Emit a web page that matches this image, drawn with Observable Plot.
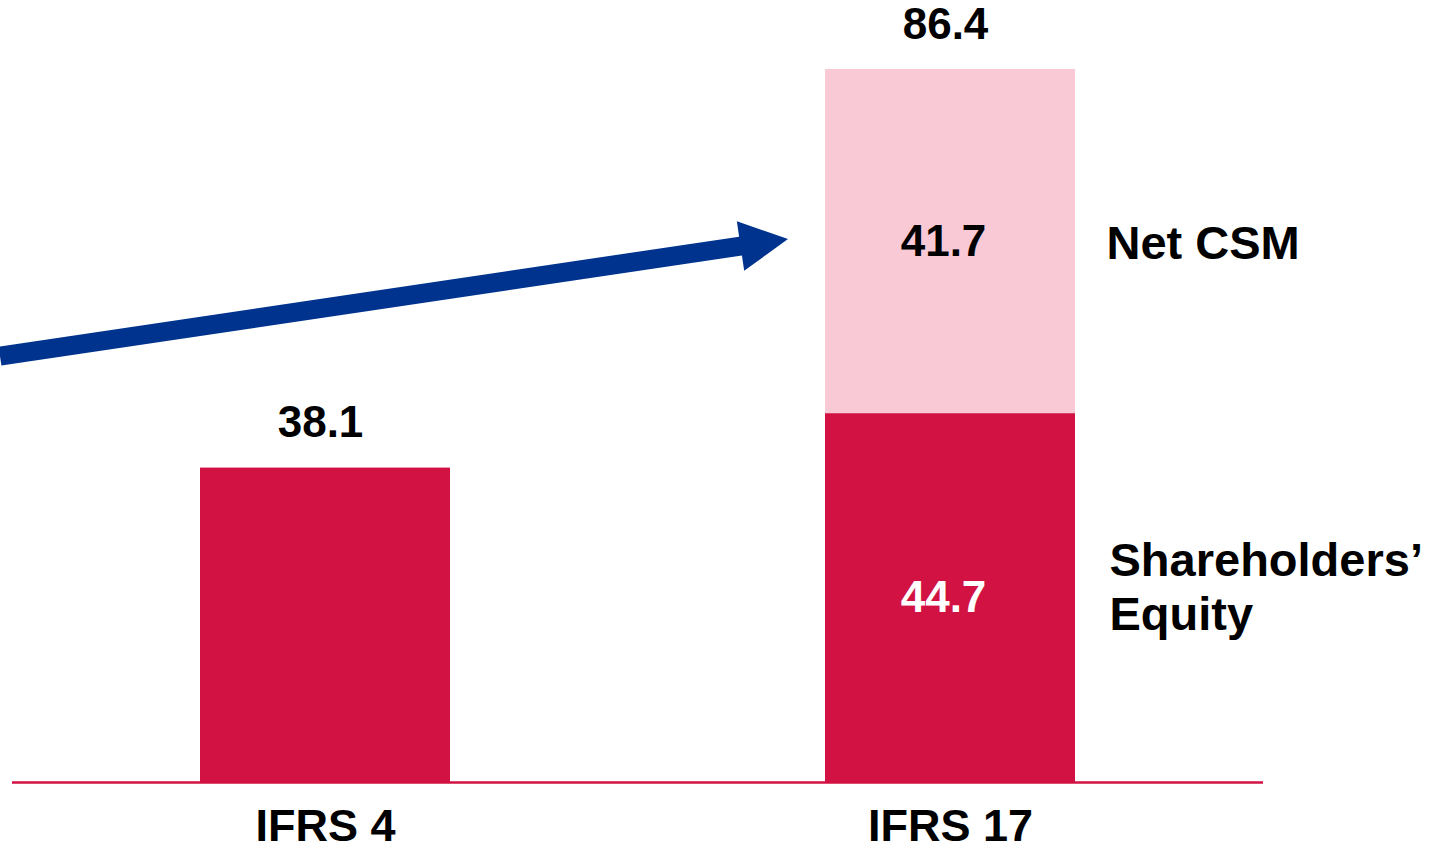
<!DOCTYPE html>
<html><head><meta charset="utf-8">
<script src="https://cdn.jsdelivr.net/npm/d3@7"></script>
<script src="https://cdn.jsdelivr.net/npm/@observablehq/plot@0.6"></script>
<style>html,body{margin:0;padding:0;background:#fff;overflow:hidden}</style>
</head><body><div id="chart"></div>
<script>
const categories = ["IFRS 4", "IFRS 17"];
const seriesNames = ["Shareholders’ Equity", "Net CSM"];
const seriesLabels = ["Shareholders’\nEquity", "Net CSM"];
const equityValues = [38.1, 44.7];
const csmValues = [null, 41.7];
const totalValues = [38.1, 86.4];
const seriesColors = ["#D11242", "#F9CAD6"];
const arrowStartValue = 51.6;
const arrowEndValue = 65.8;

const rows = [];
categories.forEach((c, i) => {
  rows.push({cat: c, series: seriesNames[0], label: seriesLabels[0], value: equityValues[i], base: 0});
  if (csmValues[i] != null) rows.push({cat: c, series: seriesNames[1], label: seriesLabels[1], value: csmValues[i], base: equityValues[i]});
});
const totals = categories.map((c, i) => ({cat: c, total: totalValues[i]}));
const mid = d => d.base + d.value / 2;
const ifrs17 = rows.filter(d => d.cat === categories[1]);
const eqRow = ifrs17.filter(d => d.series === seriesNames[0]);
const csmRow = ifrs17.filter(d => d.series === seriesNames[1]);

function arrowMark(index, scales) {
  const x0 = 0, y0 = scales.y(arrowStartValue);
  const x1 = scales.x(categories[1]) - 37, y1 = scales.y(arrowEndValue);
  const dx = x1 - x0, dy = y1 - y0, len = Math.hypot(dx, dy);
  const ux = dx / len, uy = dy / len, nx = -uy, ny = ux;
  const L = 48, hw = 25, sw = 9.5;
  const bx = x1 - ux * L, by = y1 - uy * L;
  const pts = [
    [x0 + nx * sw, y0 + ny * sw],
    [bx + nx * sw, by + ny * sw],
    [bx + nx * hw, by + ny * hw],
    [x1, y1],
    [bx - nx * hw, by - ny * hw],
    [bx - nx * sw, by - ny * sw],
    [x0 - nx * sw, y0 - ny * sw]
  ];
  return d3.create("svg:polygon")
    .attr("points", pts.map(p => p.join(",")).join(" "))
    .attr("fill", "#00338D")
    .node();
}

const font = "'Liberation Sans', Arial, sans-serif";
const chart = Plot.plot({
  width: 1443,
  height: 853,
  marginTop: 69,
  marginBottom: 71,
  marginLeft: 12,
  marginRight: 180,
  style: {fontFamily: font, background: "#fff"},
  x: {domain: categories, range: [200, 1075.5], paddingInner: 0.6, paddingOuter: 0, label: null},
  y: {domain: [0, 86.4], axis: null},
  color: {domain: seriesNames, range: seriesColors},
  marks: [
    Plot.barY(rows, {x: "cat", y: "value", fill: "series"}),
    Plot.ruleY([0], {stroke: "#D11242", strokeWidth: 2.5}),
    Plot.axisX({tickSize: 0, tickPadding: 27, fontSize: 45, fontWeight: "bold", fill: "#000", label: null}),
    Plot.text(totals, {x: "cat", y: "total", text: d => d.total.toFixed(1), dy: -45, dx: -5, fontSize: 44, fontWeight: "bold", fill: "#000"}),
    Plot.text(csmRow, {x: "cat", y: mid, text: d => d.value.toFixed(1), dx: -7, fontSize: 44, fontWeight: "bold", fill: "#000"}),
    Plot.text(eqRow, {x: "cat", y: mid, text: d => d.value.toFixed(1), dx: -7, fontSize: 44, fontWeight: "bold", fill: "#fff"}),
    Plot.text(csmRow, {x: "cat", y: mid, text: "label", textAnchor: "start", dx: 156, dy: 2, fontSize: 47, fontWeight: "bold", fill: "#000"}),
    Plot.text(eqRow, {x: "cat", y: mid, text: "label", textAnchor: "start", dx: 159, dy: -12, lineHeight: 1.15, fontSize: 47, fontWeight: "bold", fill: "#000"}),
    arrowMark
  ]
});
document.getElementById("chart").appendChild(chart);
</script>
</body></html>
